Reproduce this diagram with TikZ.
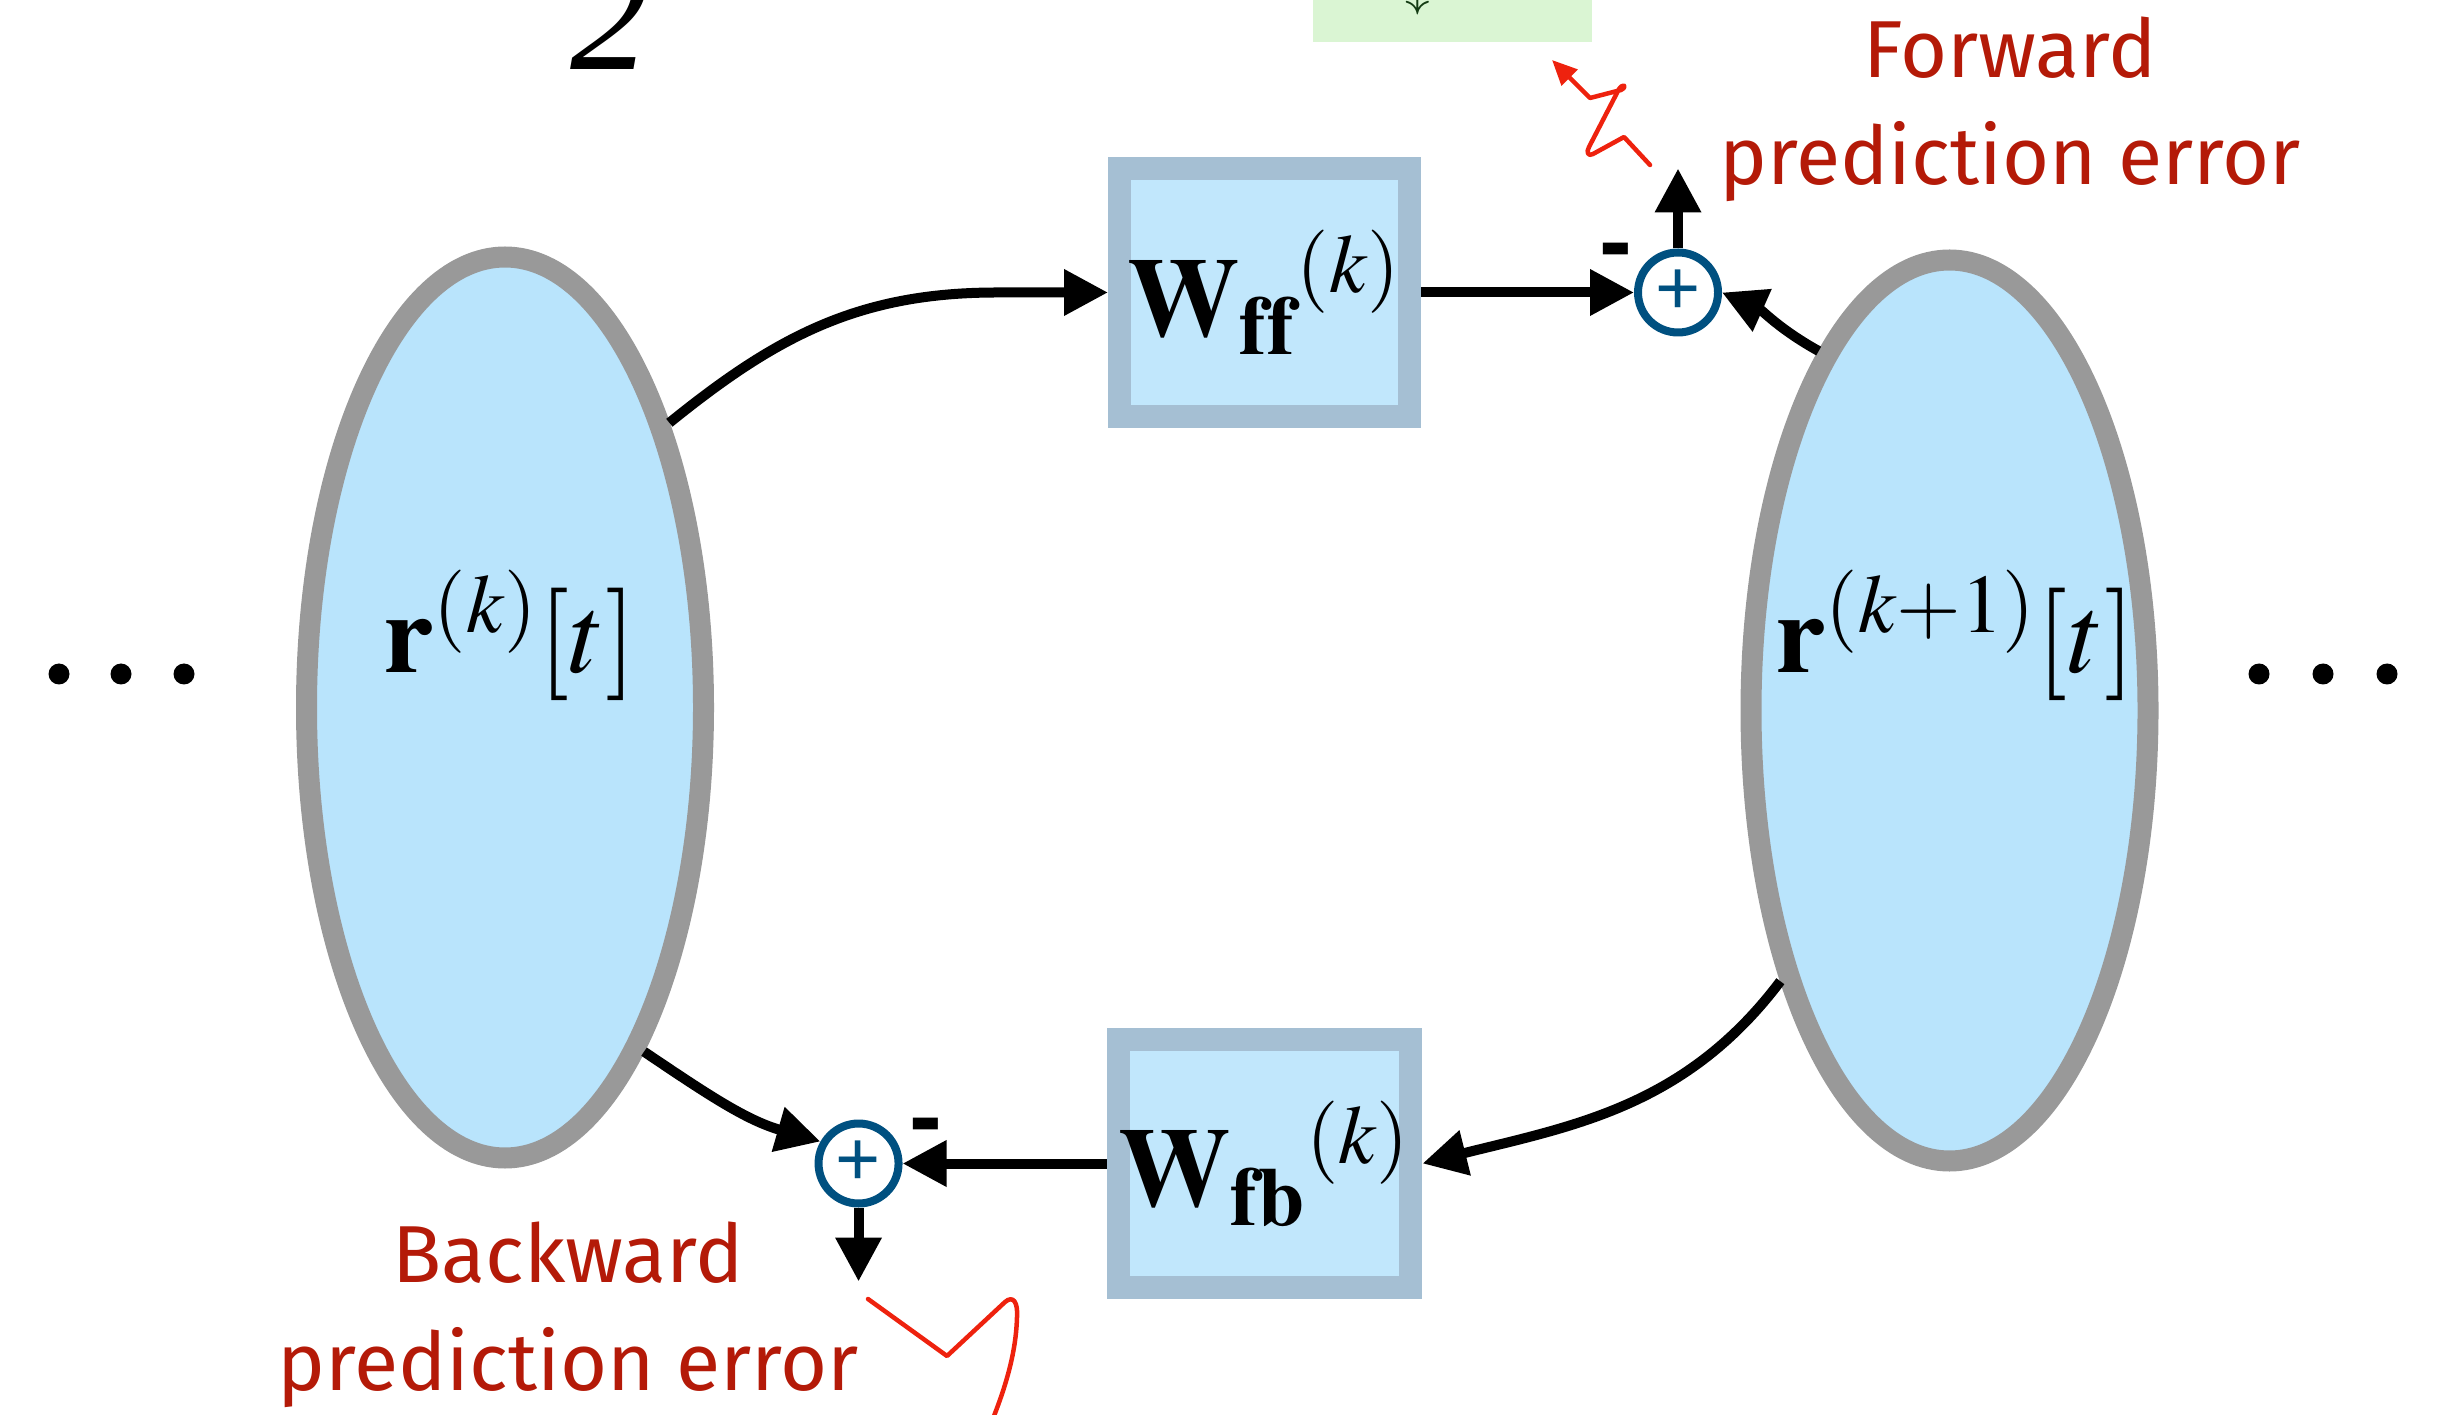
\documentclass[tikz,border=0pt]{standalone}
\usepackage{mathptmx}
\usepackage{fontspec}
\setmainfont{Liberation Serif}
\setsansfont{Liberation Sans}
\newfontfamily\handfont{Fira Sans}
\usetikzlibrary{shapes.geometric, arrows.meta, positioning}

% ── Colour Palette ──────────────────────────────────────────────────
\definecolor{state_fill}{RGB}{185, 228, 252}
\definecolor{state_border}{RGB}{153, 153, 153}
\definecolor{weight_fill}{RGB}{193, 231, 252}
\definecolor{weight_border}{RGB}{165, 191, 211}
\definecolor{sum_border}{RGB}{0, 80, 128}
\definecolor{err_text}{RGB}{180, 26, 8}
\definecolor{squig_red}{RGB}{238, 34, 14}
\definecolor{hint_fill}{RGB}{218, 245, 211}
\definecolor{hint_text}{RGB}{20, 60, 20}

\begin{document}
\begin{tikzpicture}[
    >={Triangle[length=0.44cm, width=0.44cm]},
    font=\fontsize{32}{38}\selectfont,
    % --- Styles ---
    statenode/.style={
        ellipse, minimum width=3.97cm, minimum height=9.01cm, inner sep=0pt,
        draw=state_border, fill=state_fill, line width=0.21cm
    },
    wbox/.style={
        rectangle, minimum width=2.90cm, minimum height=2.48cm, inner sep=0pt,
        draw=weight_border, fill=weight_fill, line width=0.23cm
    },
    sumnode/.style={
        circle, minimum size=0.80cm, inner sep=0pt,
        draw=sum_border, line width=0.08cm, text=sum_border,
        font=\sffamily\fontsize{22}{22}\selectfont
    },
    minussign/.style={font=\sffamily\bfseries\fontsize{28}{28}\selectfont, inner sep=0pt},
    arrow/.style={->, line width=0.10cm},
    errlabel/.style={font=\handfont\fontsize{23}{30.5}\selectfont, text=err_text,
        align=center, inner sep=0pt},
    squiggle/.style={draw=squig_red, line width=0.045cm, line join=round, line cap=round}
]

    \useasboundingbox (0,0) rectangle (24.43,14.14);
    \clip (0,0) rectangle (24.43,14.14);

    % ── NODES ───────────────────────────────────────────────────────────

    % cut-off pieces of the figure above
    \node (two) [anchor=base] at (6.10,13.44) {\fontsize{45}{50}\selectfont\textit{2}};
    \node (hint) [fill=hint_fill, minimum width=2.79cm, minimum height=0.84cm,
                  inner sep=0pt] at (14.525,14.14) {};
    \node (hintglyph) [anchor=base, inner sep=0pt, text=hint_text] at (14.18,14.08)
        {\fontsize{14}{14}\selectfont$\downarrow$};

    % layers
    \node (rk)  [statenode] at (5.05,7.065) {};
    \node (rkk) [statenode] at (19.495,7.035) {};
    \node (rklbl)  [anchor=base] at (5.105,7.41)  {$\mathbf{r}^{(k)}[t]$};
    \node (rkklbl) [anchor=base] at (19.555,7.41) {$\mathbf{r}^{(k+1)}[t]$};

    % weights
    \node (wff) [wbox] at (12.645,11.215) {${\mathbf{W}_{\mathbf{ff}}}^{(k)}$};
    \node (wfb) [wbox, below=6cm of wff] {${\mathbf{W}_{\mathbf{fb}}}^{(k)}$};

    % summing junctions
    \node (sumtop) [sumnode, right=2.13cm of wff] {+};
    \node (sumbot) [sumnode, left=2.04cm of wfb] {+};
    \node (minustop) [minussign] at ([shift={(-0.625,0.335)}]sumtop.center) {-};
    \node (minusbot) [minussign] at ([shift={(0.675,0.295)}]sumbot.center) {-};

    % dots
    \foreach \x in {0.59,1.21,1.84,22.59,23.23,23.87}
        \fill (\x,7.40) circle (0.105);

    % ── ARROWS ──────────────────────────────────────────────────────────

    \coordinate [left=1.11cm of wff.west] (ffbend);
    \coordinate [above=0.80cm of sumtop.north] (fwdout);
    \coordinate [below=0.74cm of sumbot.south] (bwdout);

    \draw [arrow] (rk.60) to[out=39, in=180] (ffbend) -- (wff.west);
    \draw [arrow] (wff.east) -- (sumtop.west);
    \draw [arrow] (rkk.110) to[out=151, in=-24] (sumtop.east);
    \draw [arrow] (sumtop.north) -- (fwdout);

    \draw [arrow] (rkk.238) to[out=233, in=14] (wfb.east);
    \draw [arrow] (wfb.west) -- (sumbot.east);
    \draw [arrow] (rk.-68) to[out=-34, in=164] (sumbot.150);
    \draw [arrow] (sumbot.south) -- (bwdout);

    % ── ERROR LABELS ────────────────────────────────────────────────────

    % (base = baseline of the last line)
    \node (fwdlbl) [errlabel, anchor=base] at (20.10,12.29) {Forward\\prediction error};
    \node (bwdlbl) [errlabel, anchor=base] at (5.68,0.24) {Backward\\prediction error};

    \coordinate (fwdsqstart) at (16.50,12.49);
    \coordinate (fwdsqtip) at (15.52,13.54);
    \draw [squiggle, -{Triangle[length=0.25cm, width=0.22cm]}] (fwdsqstart)
        -- (16.24,12.77) -- (15.93,12.60)
        .. controls (15.88,12.57) and (15.86,12.62) .. (15.89,12.67)
        -- (16.19,13.25)
        .. controls (16.23,13.31) and (16.28,13.28) .. (16.21,13.24)
        -- (15.90,13.16) -- (fwdsqtip);

    \coordinate (bwdsqstart) at (8.68,1.15);
    \draw [squiggle] (bwdsqstart) -- (9.47,0.58) -- (10.05,1.12)
        .. controls (10.13,1.19) and (10.18,1.12) .. (10.17,0.97)
        .. controls (10.16,0.60) and (10.05,0.25) .. (9.90,-0.12);

\end{tikzpicture}
\end{document}
